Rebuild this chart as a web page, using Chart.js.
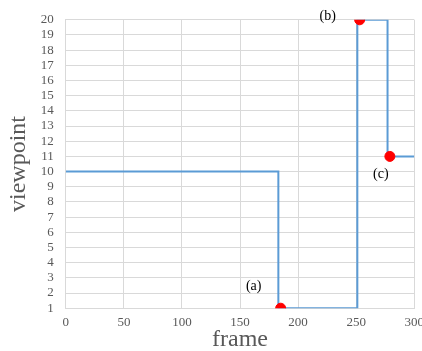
<!DOCTYPE html>
<html>
<head>
<meta charset="utf-8">
<script src="https://cdn.jsdelivr.net/npm/chart.js@4"></script>
<style>
  html, body { margin: 0; padding: 0; background: #fff; overflow: hidden; }
  #wrap { width: 432px; height: 351px; }
</style>
</head>
<body>
<div id="wrap"><canvas id="chart"></canvas></div>
<script>
// step points: viewpoint holds until the next frame, then jumps
const stepFrames = [0, 183, 251, 277, 300];
const stepViews = [10, 1, 20, 11, 11];

// marked points (a), (b), (c)
const markFrames = [185, 253, 279];
const markViews = [1, 20, 11];
const markLabels = ['(a)', '(b)', '(c)'];

const xTicks = [0, 50, 100, 150, 200, 250, 300];

const axisColor = '#595959';
const serif = "'Liberation Serif', 'DejaVu Serif', serif";

// Draw the (a)/(b)/(c) text next to each red dot
const markLabelPlugin = {
    id: 'markLabels',
    afterDatasetsDraw(chart) {
        const ctx = chart.ctx;
        const x = chart.scales.x, y = chart.scales.y;
        const offsets = [[-27, -22], [-32, -3], [-9, 18]];
        ctx.save();
        ctx.font = '14px ' + serif;
        ctx.fillStyle = '#000';
        ctx.textAlign = 'center';
        ctx.textBaseline = 'middle';
        markFrames.forEach((f, i) => {
            ctx.fillText(markLabels[i],
                x.getPixelForValue(f) + offsets[i][0],
                y.getPixelForValue(markViews[i]) + offsets[i][1]);
        });
        ctx.restore();
    }
};

new Chart(document.getElementById('chart'), {
    type: 'scatter',
    data: {
        datasets: [
            {
                data: markFrames.map((f, i) => ({ x: f, y: markViews[i] })),
                backgroundColor: '#ff0000',
                borderColor: '#ff0000',
                pointRadius: 5,
                showLine: false
            },
            {
                data: stepFrames.map((f, i) => ({ x: f, y: stepViews[i] })),
                borderColor: '#5b9bd5',
                borderWidth: 2,
                pointRadius: 0,
                showLine: true,
                stepped: 'before'
            }
        ]
    },
    options: {
        responsive: true,
        maintainAspectRatio: false,
        animation: false,
        layout: { padding: { top: 15, left: 0, right: 0, bottom: 0 } },
        plugins: {
            legend: { display: false },
            tooltip: { enabled: false }
        },
        scales: {
            x: {
                type: 'linear',
                min: 0,
                max: 300,
                afterBuildTicks: axis => { axis.ticks = xTicks.map(v => ({ value: v })); },
                ticks: { color: axisColor, font: { family: serif, size: 13, lineHeight: 1 }, padding: 8, maxRotation: 0 },
                grid: { color: '#d9d9d9', drawTicks: false },
                border: { color: '#d9d9d9' },
                title: { display: true, text: 'frame', color: axisColor, font: { family: serif, size: 24, lineHeight: 0.95 }, padding: { top: -9, bottom: 0 } }
            },
            y: {
                min: 1,
                max: 20,
                ticks: { stepSize: 1, autoSkip: false, color: axisColor, font: { family: serif, size: 13 }, padding: 12 },
                grid: { color: '#d9d9d9', drawTicks: false },
                border: { color: '#d9d9d9' },
                title: { display: true, text: 'viewpoint', color: axisColor, font: { family: serif, size: 24 }, padding: { top: 4, bottom: -4 } }
            }
        }
    },
    plugins: [markLabelPlugin]
});
</script>
</body>
</html>
